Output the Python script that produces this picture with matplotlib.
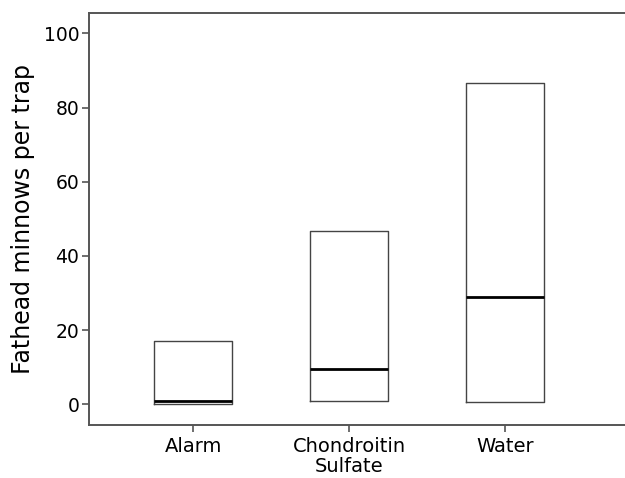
import matplotlib
matplotlib.use("Agg")
import matplotlib.pyplot as plt

groups = ["Alarm", "Chondroitin\nSulfate", "Water"]
box_low = [0.0, 1.0, 0.5]
box_high = [17.0, 46.6, 86.5]
medians = [1.0, 9.5, 29.0]
yticks = [0, 20, 40, 60, 80, 100]

fig = plt.figure(figsize=(6.25, 4.78), dpi=100)
ax = fig.add_axes([0.1424, 0.1109, 0.8576, 0.8619])

stats = []
for name, lo, hi, med in zip(groups, box_low, box_high, medians):
    stats.append(dict(label=name, med=med, q1=lo, q3=hi, whislo=lo, whishi=hi))

ax.bxp(stats, positions=range(len(groups)), widths=0.5,
       showfliers=False, showcaps=False,
       boxprops=dict(color="#444444", linewidth=1.0),
       whiskerprops=dict(linewidth=0),
       medianprops=dict(color="black", linewidth=2.0))

ax.set_xlim(-0.669, 2.767)
ax.set_ylim(-5.6, 105.5)
ax.set_yticks(yticks)
ax.set_xticks(range(len(groups)))
ax.set_xticklabels(groups, fontsize=14, linespacing=1.05)
ax.tick_params(axis="y", labelsize=13.5, length=5, width=1.2, color="#555555", pad=2)
ax.tick_params(axis="x", length=5, width=1.2, color="#555555", pad=4)
ax.set_ylabel("Fathead minnows per trap", fontsize=17, labelpad=6)

for side in ["left", "bottom", "top"]:
    ax.spines[side].set_color("#555555")
    ax.spines[side].set_linewidth(1.4)
ax.spines["right"].set_visible(False)

fig.savefig("out.png", dpi=100)
